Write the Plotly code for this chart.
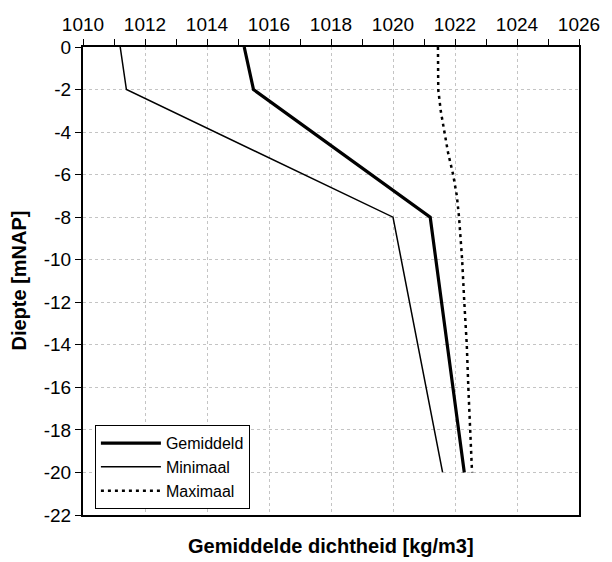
import plotly.graph_objects as go

# Data
depth_main = [0, -2, -8, -20]
gemiddeld = [1015.2, 1015.5, 1021.2, 1022.3]
minimaal = [1011.2, 1011.4, 1020.0, 1021.6]

depth_max = [0, -2, -3, -4, -5, -6, -7, -8, -10, -12, -14, -16, -18, -20]
maximaal = [1021.45, 1021.46, 1021.54, 1021.67, 1021.78, 1021.94, 1022.06,
            1022.13, 1022.23, 1022.30, 1022.38, 1022.43, 1022.48, 1022.55]

x_ticks = [1010, 1012, 1014, 1016, 1018, 1020, 1022, 1024, 1026]
y_ticks = [0, -2, -4, -6, -8, -10, -12, -14, -16, -18, -20, -22]

FONT = "Liberation Sans, Arial, sans-serif"

fig = go.Figure()
fig.add_trace(go.Scatter(x=gemiddeld, y=depth_main, mode="lines", name="Gemiddeld",
                         line=dict(color="black", width=3.2)))
fig.add_trace(go.Scatter(x=minimaal, y=depth_main, mode="lines", name="Minimaal",
                         line=dict(color="black", width=1.5)))
fig.add_trace(go.Scatter(x=maximaal, y=depth_max, mode="lines", name="Maximaal",
                         line=dict(color="black", width=2.5, dash="3px,4px")))

fig.update_layout(
    width=612, height=562,
    margin=dict(l=83, r=22, t=47, b=47),
    paper_bgcolor="white", plot_bgcolor="white",
    font=dict(family=FONT, size=19, color="black"),
    showlegend=True,
    legend=dict(x=0.024, y=0.192, xanchor="left", yanchor="top",
                bgcolor="white", bordercolor="black", borderwidth=1,
                font=dict(size=16, family=FONT), tracegroupgap=0,
                itemwidth=60),
)

fig.update_xaxes(
    side="top", range=[1010, 1026], tickvals=x_ticks,
    ticktext=[str(v) for v in x_ticks],
    ticks="outside", ticklen=6, tickwidth=1, tickcolor="black",
    minor=dict(dtick=1, ticks="outside", ticklen=6, tickcolor="black", showgrid=False),
    showline=True, linecolor="black", linewidth=2, mirror=True,
    showgrid=True, gridcolor="#c4c4c4", gridwidth=1, griddash="dot",
    zeroline=False, tickfont=dict(size=19),
)
fig.update_yaxes(
    range=[-22, 0], tickvals=y_ticks, ticktext=[str(v) for v in y_ticks],
    ticks="outside", ticklen=6, tickwidth=1, tickcolor="black",
    showline=True, linecolor="black", linewidth=2, mirror=True,
    showgrid=True, gridcolor="#c4c4c4", gridwidth=1, griddash="dot",
    zeroline=False, tickfont=dict(size=19),
)

fig.add_annotation(text="<b>Gemiddelde dichtheid [kg/m3]</b>", xref="paper", yref="paper",
                   x=0.5, y=-0.066, xanchor="center", yanchor="middle",
                   showarrow=False, font=dict(size=20, family=FONT))
fig.add_annotation(text="<b>Diepte [mNAP]</b>", xref="paper", yref="paper",
                   x=-0.13, y=0.5, xanchor="center", yanchor="middle", textangle=-90,
                   showarrow=False, font=dict(size=20, family=FONT))

fig.write_html("out.html")
